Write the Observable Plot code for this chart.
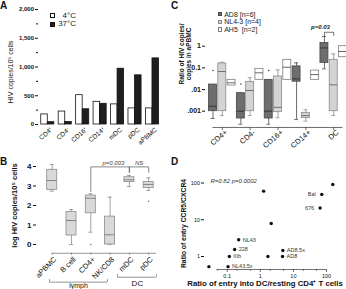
<!DOCTYPE html>
<html>
<head>
<meta charset="utf-8">
<script src="https://cdn.jsdelivr.net/npm/d3@7"></script>
<script src="https://cdn.jsdelivr.net/npm/@observablehq/plot@0.6"></script>
<style>
  html, body { margin: 0; padding: 0; background: #fff; }
  #fig { position: relative; width: 346px; height: 289px; overflow: hidden;
         font-family: "Liberation Sans", Arial, Helvetica, sans-serif; color: #111; }
  #fig svg { position: absolute; left: 0; top: 0; }
  .panel { position: absolute; font-weight: bold; font-size: 10px; line-height: 10px; }
  .legend { position: absolute; white-space: pre; color: #222; }
  .legend .row { display: flex; align-items: center; }
  .legend .sw { display: inline-block; box-sizing: border-box; flex: none; }
</style>
</head>
<body>
<div id="fig"></div>
<script>
// ---------- A: HIV binding at 4°C vs 37°C ----------
const cellsA = ["CD4⁺", "CD4⁻", "CD16⁺", "CD14⁺", "mDC", "pDC", "aPBMC"];
const tempsA = ["4°C", "37°C"];
const copies4C = [175, 225, 510, 395, 350, 280, 280];
const copies37C = [40, 45, 265, 360, 970, 855, 1150];
const yTicksA = [0, 500, 1000, 1500, 2000];
const yMinorA = [250, 750, 1250, 1750];

// ---------- B: log HIV copies per 10^5 cells, box summaries ----------
const cellsB = ["aPBMC", "B cell", "CD4+", "NK/CD8", "mDC", "pDC"];
const lowB  = [2.73, 0.00, 0.63, 0.00, 2.97, 2.77];
const q1B   = [2.80, 0.46, 1.60, 0.00, 3.20, 2.89];
const medB  = [3.28, 1.23, 2.37, 0.50, 3.32, 3.08];
const q3B   = [3.83, 1.66, 2.51, 1.43, 3.45, 3.20];
const highB = [4.10, 1.79, 2.60, 2.43, 3.54, 3.42];
const outlierCellB = ["CD4+", "pDC"];
const outlierLogB = [0, 2.22];
const yTicksB = [0, 1, 2, 3, 4];

// ---------- C: ratio of copies to aPBMC copies, per virus ----------
const targetsC = ["CD4+", "CD4-", "CD16+", "CD14+", "DC"];
const virusesC = ["AD8", "NL4-3", "AH5"];
const virusLegendC = ["AD8 [n=6]", "NL4-3 [n=4]", "AH5  [n=2]"];
const ad8Low    = [0.00046, 0.00025, 0.00025, 0.00041, 0.09];
const ad8Q1     = [0.001, 0.00046, 0.00046, 0.023, 0.17];
const ad8Median = [0.0017, 0.001, 0.001, 0.031, 0.83];
const ad8Q3     = [0.017, 0.0068, 0.028, 0.117, 1.4];
const ad8High   = [0.017, 0.0068, 0.028, 0.17, 2.8];
const ad8Outlier = [0.075, 0.018, 0.075, null, null];
const nl43Low    = [0.00063, 0.00063, 0.0005, 0.00035, 0.00063];
const nl43Q1     = [0.001, 0.001, 0.0009, 0.00048, 0.001];
const nl43Median = [0.068, 0.009, 0.0015, 0.00063, 0.0165];
const nl43Q3     = [0.16, 0.0226, 0.04, 0.00084, 0.235];
const nl43High   = [0.18, 0.035, 0.081, 0.00116, 0.44];
const ah5Min = [0.0153, 0.028, 0.028, 0.028, 0.31];
const ah5Mid = [0.0204, 0.059, 0.107, 0.049, 0.57];
const ah5Max = [0.028, 0.09, 0.235, 0.075, 1.0];
const yTicksC = [0.001, 0.01, 0.1, 1];
const yTickTextC = [".001", ".01", "0.1", "1"];

// ---------- D: entry ratios ----------
const isolatesD = ["", "NL43.5x", "IIIb", "228", "NL43", "", "", "", "AD8.5x", "AD8", "676", "Bal", ""];
const dcToCd4D = [0.028, 0.106, 0.116, 0.168, 0.222, 1.26, 2.14, 1.7, 4.8, 4.7, 64, 72, 155];
const ccr5ToCxcr4D = [0.53, 0.53, 1.0, 1.55, 2.85, 60, 7.9, 1.0, 1.46, 1.0, 20.9, 48.7, 91];
const xTicksD = [0.1, 1, 10, 100];
const xMinorD = [0.05, 0.2, 0.5, 2, 5, 20, 50];
const yTicksD = [1, 10, 100];

const FONT = '"Liberation Sans", Arial, Helvetica, sans-serif';
const W = 346, H = 289;
const fig = document.getElementById("fig");

function base(fontSize) {
  return {width: W, height: H,
    style: {background: "none", overflow: "visible", fontFamily: FONT, fontSize: `${fontSize}px`, color: "#111"}};
}
function mount(node) { fig.appendChild(node); }
function letter(text, left, top) {
  const d = document.createElement("div");
  d.className = "panel"; d.textContent = text;
  d.style.left = `${left}px`; d.style.top = `${top}px`;
  fig.appendChild(d);
}
function legend(labels, swatches, {left, top, rowHeight, size, fontSize, textWidth, gap}) {
  const box = document.createElement("div");
  box.className = "legend";
  Object.assign(box.style, {left: `${left}px`, top: `${top}px`, fontSize: `${fontSize}px`, lineHeight: `${rowHeight}px`});
  labels.forEach((label, i) => {
    const row = document.createElement("div"); row.className = "row"; row.style.height = `${rowHeight}px`;
    const sw = document.createElement("span"); sw.className = "sw";
    Object.assign(sw.style, {width: `${size}px`, height: `${size}px`, background: swatches[i].fill,
      border: `0.8px solid ${swatches[i].stroke}`, marginRight: `${gap}px`});
    const tx = document.createElement("span"); tx.textContent = label;
    if (textWidth) Object.assign(tx.style, {display: "inline-block", width: `${textWidth}px`, textAlign: "right"});
    row.append(sw, tx); box.appendChild(row);
  });
  fig.appendChild(box);
}

// ===== Panel A =====
const rowsA = cellsA.map((cell, i) => ({cell, cold: copies4C[i], warm: copies37C[i]}));
mount(Plot.plot({
  ...base(6),
  marginLeft: 38, marginRight: W - 168, marginTop: 9, marginBottom: H - 124,
  x: {domain: cellsA, range: [40.75, 158.5], paddingInner: 0.25, paddingOuter: 0, round: false, axis: null},
  y: {domain: [0, 2000], label: null},
  marks: [
    Plot.axisY(yTicksA, {tickSize: 3, tickPadding: 1.5, line: true, label: null, fontWeight: "bold"}),
    Plot.axisY(yMinorA, {tickSize: 2, tickFormat: () => "", label: null}),
    Plot.barY(rowsA, {x: "cell", y: "cold", fill: "white", stroke: "#111", strokeWidth: 0.8, insetRight: 6.55}),
    Plot.barY(rowsA, {x: "cell", y: "warm", fill: "#1e1e1e", stroke: "#111", strokeWidth: 0.8, insetLeft: 6.55}),
    Plot.text(cellsA, {x: d => d, frameAnchor: "bottom", text: d => d, rotate: -40, textAnchor: "end", dx: 5, dy: 6, fontSize: 6.5}),
    Plot.text(["HIV copies/10⁵ cells"], {frameAnchor: "left", text: d => d, rotate: -90, textAnchor: "middle", dx: -28, dy: 5, fontSize: 7})
  ]
}));
legend(tempsA, [{fill: "#fff", stroke: "#111"}, {fill: "#1e1e1e", stroke: "#111"}],
  {left: 50, top: 11.6, rowHeight: 8.3, size: 5, fontSize: 8, textWidth: 20, gap: 1});

// ===== Panel B =====
const rowsB = cellsB.map((cell, i) => ({cell, low: lowB[i], q1: q1B[i], med: medB[i], q3: q3B[i], high: highB[i]}));
const outliersB = outlierCellB.map((cell, i) => ({cell, v: outlierLogB[i]}));
const baselineB = -0.45;       // offset category axis below zero
const lymphY = -1.93, dcY = -1.677, sigTopB = 3.98;
const grey = "#8c8c8c", ink = "#555";
const bracket = (from, to, fromLow, toLow, top) =>
  [{x: from, y: fromLow}, {x: from, y: top}, {x: to, y: top}, {x: to, y: toLow}];
mount(Plot.plot({
  ...base(8),
  marginLeft: 36, marginRight: W - 160, marginTop: 166, marginBottom: H - 246,
  x: {domain: cellsB, range: [46.7, 153.2], paddingInner: 0.48, paddingOuter: 0, round: false, axis: null},
  y: {domain: [0, 4], range: [244, 166], label: null},
  marks: [
    Plot.axisY(yTicksB, {tickSize: 3, tickPadding: 2, line: true, label: null, fontWeight: "bold"}),
    Plot.ruleX(rowsB, {x: "cell", y1: "low", y2: "high", stroke: grey, strokeWidth: 0.8}),
    Plot.tickY(rowsB, {x: "cell", y: "low", insetLeft: 3, insetRight: 3, stroke: grey, strokeWidth: 0.8}),
    Plot.tickY(rowsB, {x: "cell", y: "high", insetLeft: 3, insetRight: 3, stroke: grey, strokeWidth: 0.8}),
    Plot.barY(rowsB, {x: "cell", y1: "q1", y2: "q3", fill: "#d9d9d9", stroke: grey, strokeWidth: 0.8}),
    Plot.tickY(rowsB, {x: "cell", y: "med", stroke: "#7a7a7a", strokeWidth: 0.9}),
    Plot.dot(outliersB, {x: "cell", y: "v", r: 0.8, fill: "#777"}),
    // category axis
    Plot.ruleY([{y: baselineB, a: cellsB[0], b: cellsB[cellsB.length - 1]}], {y: "y", x1: "a", x2: "b", insetLeft: 5, insetRight: -3, stroke: "#666", strokeWidth: 0.7}),
    Plot.ruleX(cellsB, {x: d => d, y1: baselineB, y2: baselineB - 0.1, stroke: "#666", strokeWidth: 0.7}),
    Plot.text(cellsB, {x: d => d, y: baselineB, text: d => d, rotate: -45, textAnchor: "end", dx: 3, dy: 5, fontSize: 7.5}),
    // lymph / DC groupings
    Plot.ruleY([{y: lymphY, a: "B cell", b: "NK/CD8"}], {y: "y", x1: "a", x2: "b", insetLeft: -17, insetRight: 7.6, stroke: "#666", strokeWidth: 0.7}),
    Plot.ruleY([{y: dcY, a: "mDC", b: "pDC"}], {y: "y", x1: "a", x2: "b", insetLeft: -6.9, insetRight: -2.8, stroke: "#666", strokeWidth: 0.7}),
    Plot.ruleX(["B cell"], {x: d => d, y1: lymphY, y2: lymphY + 0.13, dx: -22, stroke: "#666", strokeWidth: 0.7}),
    Plot.ruleX(["NK/CD8"], {x: d => d, y1: lymphY, y2: lymphY + 0.13, dx: -2.6, stroke: "#666", strokeWidth: 0.7}),
    Plot.ruleX(["mDC"], {x: d => d, y1: dcY, y2: dcY + 0.13, dx: -11.9, stroke: "#666", strokeWidth: 0.7}),
    Plot.ruleX(["pDC"], {x: d => d, y1: dcY, y2: dcY + 0.13, dx: 7.8, stroke: "#666", strokeWidth: 0.7}),
    Plot.text(["lymph"], {x: () => "CD4+", y: lymphY, text: d => d, dx: -12.3, dy: 3.6, fontSize: 7}),
    Plot.text(["DC"], {x: () => "mDC", y: dcY, text: d => d, dx: 8, dy: 6.5, fontSize: 8}),
    // significance brackets
    Plot.line(bracket("CD4+", "mDC", 2.72, 3.7, sigTopB), {x: "x", y: "y", stroke: ink, strokeWidth: 0.7}),
    Plot.line(bracket("mDC", "pDC", 3.7, 3.7, sigTopB), {x: "x", y: "y", stroke: ink, strokeWidth: 0.7}),
    Plot.text(["p=0.003"], {x: () => "mDC", y: sigTopB, text: d => d, dx: -16, dy: -4, fontSize: 6, fontStyle: "italic", fill: "#444"}),
    Plot.text(["NS"], {x: () => "pDC", y: sigTopB, text: d => d, dx: -9.5, dy: -4, fontSize: 6, fontStyle: "italic", fill: "#444"}),
    Plot.text(["log HIV copies/10⁵ cells"], {frameAnchor: "left", text: d => d, rotate: -90, textAnchor: "middle", dx: -22, dy: -1, fontSize: 7.5, fontWeight: "bold"})
  ]
}));

// ===== Panel C =====
const keyC = (t, v) => `${t}|${v}`;
const keysC = targetsC.flatMap(t => virusesC.map(v => keyC(t, v)));
const summaryC = {
  "AD8":   {low: ad8Low, q1: ad8Q1, med: ad8Median, q3: ad8Q3, high: ad8High},
  "NL4-3": {low: nl43Low, q1: nl43Q1, med: nl43Median, q3: nl43Q3, high: nl43High},
  "AH5":   {low: ah5Min, q1: ah5Min, med: ah5Mid, q3: ah5Max, high: ah5Max}
};
const paintC = {
  "AD8":   {fill: "#6e6e6e", stroke: "#474747", median: "#2e2e2e"},
  "NL4-3": {fill: "#d4d4d4", stroke: "#8a8a8a", median: "#666"},
  "AH5":   {fill: "#ffffff", stroke: "#7d7d7d", median: "#555"}
};
const boxesC = targetsC.flatMap((t, i) => virusesC.map(v => {
  const s = summaryC[v];
  return {key: keyC(t, v), virus: v, low: s.low[i], q1: s.q1[i], med: s.med[i], q3: s.q3[i], high: s.high[i]};
}));
const outliersC = targetsC.map((t, i) => ({key: keyC(t, "AD8"), v: ad8Outlier[i]})).filter(d => d.v != null);
const baselineC = 0.000178, tickEndC = 0.000128;
const pTopC = 4.4, pLowC = 3.1;
const boxMarksC = virusesC.flatMap(v => {
  const rows = boxesC.filter(d => d.virus === v);
  const p = paintC[v];
  return [
    Plot.ruleX(rows.filter(d => d.low < d.q1 || d.high > d.q3), {x: "key", y1: "low", y2: "high", stroke: p.stroke, strokeWidth: 0.8}),
    Plot.tickY(rows.filter(d => d.low < d.q1), {x: "key", y: "low", insetLeft: 2, insetRight: 2, stroke: p.stroke, strokeWidth: 0.8}),
    Plot.tickY(rows.filter(d => d.high > d.q3), {x: "key", y: "high", insetLeft: 2, insetRight: 2, stroke: p.stroke, strokeWidth: 0.8}),
    Plot.barY(rows, {x: "key", y1: "q1", y2: "q3", fill: p.fill, stroke: p.stroke, strokeWidth: 0.8}),
    Plot.tickY(rows, {x: "key", y: "med", stroke: p.median, strokeWidth: 0.9})
  ];
});
mount(Plot.plot({
  ...base(7),
  marginLeft: 205, marginRight: 0, marginTop: 23, marginBottom: H - 113,
  x: {domain: keysC, range: [208.5, 346.5], paddingInner: 0.14, paddingOuter: 0, round: false, axis: null},
  y: {type: "log", domain: [0.001, 1], range: [110.7, 45.7], label: null},
  marks: [
    Plot.axisY(yTicksC, {tickSize: 3, tickPadding: 1.5, line: true, label: null, fontWeight: "bold",
      tickFormat: d => yTickTextC[yTicksC.indexOf(d)]}),
    ...boxMarksC,
    Plot.dot(outliersC, {x: "key", y: "v", r: 0.8, fill: "#444"}),
    // category axis
    Plot.ruleY([{y: baselineC, a: keysC[0], b: keysC[keysC.length - 1]}], {y: "y", x1: "a", x2: "b", insetLeft: 4, insetRight: 4, stroke: "#444", strokeWidth: 0.8}),
    Plot.ruleX(targetsC, {x: t => keyC(t, "NL4-3"), y1: baselineC, y2: tickEndC, stroke: "#444", strokeWidth: 0.8}),
    Plot.text(targetsC, {x: t => keyC(t, "NL4-3"), y: baselineC, text: t => t, rotate: -40, textAnchor: "end", dx: 4, dy: 4, fontSize: 7.5}),
    // AD8 vs NL4-3 in DC
    Plot.line([{x: keyC("DC", "AD8"), y: pLowC}, {x: keyC("DC", "AD8"), y: pTopC}, {x: keyC("DC", "NL4-3"), y: pTopC}, {x: keyC("DC", "NL4-3"), y: pLowC}],
      {x: "x", y: "y", stroke: "#333", strokeWidth: 0.7}),
    Plot.text(["p=0.03"], {x: () => keyC("DC", "AD8"), y: pTopC, text: d => d, dx: -4, dy: -5, fontSize: 6, fontStyle: "italic", fontWeight: "bold"}),
    Plot.text(["Ratio of HIV copies/"], {frameAnchor: "left", text: d => d, rotate: -90, textAnchor: "middle", dx: -24, dy: -14.5, fontSize: 6.5, fontWeight: "bold"}),
    Plot.text(["copies in aPBMC"], {frameAnchor: "left", text: d => d, rotate: -90, textAnchor: "middle", dx: -17, dy: -14.5, fontSize: 6.5, fontWeight: "bold"})
  ]
}));
legend(virusLegendC, virusesC.map(v => ({fill: paintC[v].fill, stroke: paintC[v].stroke})),
  {left: 218, top: 10.5, rowHeight: 7.6, size: 4.4, fontSize: 7, gap: 1.8});

// ===== Panel D =====
const rowsD = isolatesD.map((name, i) => ({name, dc: dcToCd4D[i], cc: ccr5ToCxcr4D[i]}));
const leftLabelled = new Set(["Bal", "676"]);
const baselineD = 0.443, tickEndD = 0.367, minorEndD = 0.392;
mount(Plot.plot({
  ...base(5.5),
  marginLeft: 204, marginRight: 6, marginTop: 181, marginBottom: H - 267,
  x: {type: "log", domain: [0.1, 100], range: [226.7, 326], axis: null},
  y: {type: "log", domain: [1, 100], range: [256, 182.5], label: null},
  marks: [
    Plot.axisY(yTicksD, {tickSize: 3, tickPadding: 1.5, line: true, label: null, tickFormat: d => String(d)}),
    Plot.ruleY([baselineD], {x1: 0.05, x2: 100, stroke: "#333", strokeWidth: 0.7}),
    Plot.ruleX(xTicksD, {x: d => d, y1: baselineD, y2: tickEndD, stroke: "#333", strokeWidth: 0.7}),
    Plot.ruleX(xMinorD, {x: d => d, y1: baselineD, y2: minorEndD, stroke: "#333", strokeWidth: 0.6}),
    Plot.text(xTicksD, {x: d => d, y: tickEndD, text: d => String(d), dy: 4, fontSize: 5.5}),
    Plot.dot(rowsD, {x: "dc", y: "cc", r: 1.7, fill: "#111"}),
    Plot.text(rowsD.filter(d => d.name && !leftLabelled.has(d.name)), {x: "dc", y: "cc", text: "name", textAnchor: "start", dx: 4, fontSize: 5.5, fill: "#333"}),
    Plot.text(rowsD.filter(d => leftLabelled.has(d.name)), {x: "dc", y: "cc", text: "name", textAnchor: "end", dx: -6, fontSize: 5.5, fill: "#333"}),
    Plot.text(["R=0.82 p=0.0002"], {frameAnchor: "top-left", text: d => d, textAnchor: "start", dx: 6, dy: -3, fontSize: 6, fontStyle: "italic", fill: "#333"}),
    Plot.text(["Ratio of entry CCR5/CXCR4"], {frameAnchor: "left", text: d => d, rotate: -90, textAnchor: "middle", dx: -21, dy: -1, fontSize: 6.8, fontWeight: "bold"}),
    Plot.text(["Ratio of entry into DC/resting CD4⁺ T cells"], {frameAnchor: "bottom", text: d => d, textAnchor: "middle", dx: -7.5, dy: 18, fontSize: 7.8, fontWeight: "bold"})
  ]
}));

letter("A", 0, 1);
letter("B", 0, 157);
letter("C", 171, 0.5);
letter("D", 171, 156.5);
</script>
</body>
</html>
